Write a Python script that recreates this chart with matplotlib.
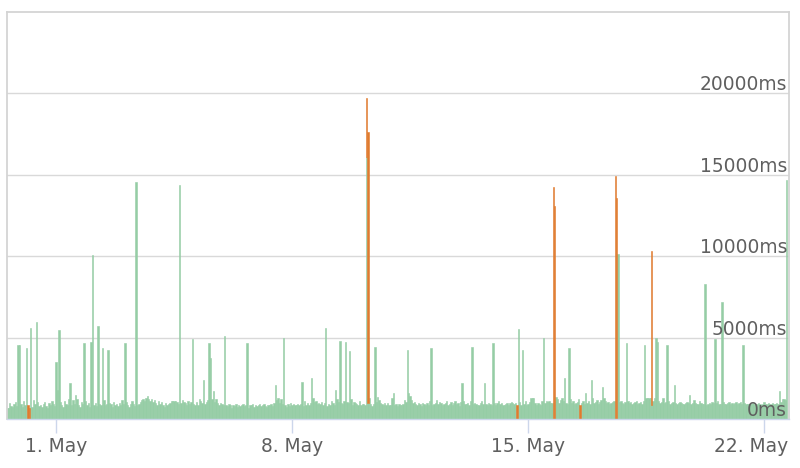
import matplotlib
matplotlib.use('Agg')
import matplotlib.pyplot as plt
import matplotlib.transforms as mtransforms
import numpy as np

# hour offsets relative to 1 May 00:00 (one bar per hour)
first_hour = -35

green_base = [
    700, 650, 980, 820, 760, 900, 1050, 780, 690, 880, 950, 720, 1100, 860, 790, 940, 1000, 830, 760, 1180, 900, 850, 1020, 780,
    880, 760, 930, 1050, 820, 700, 960, 840, 1120, 900, 780, 1300, 870, 950, 1020, 880, 760, 1100, 920, 840, 1250, 980, 870, 1150,
    920, 830, 1200, 880, 760, 1060, 940, 820, 1120, 880, 970, 760, 900, 1040, 850, 960, 780, 1100, 900, 830, 980, 1160, 870, 920,
    840, 980, 900, 760, 1050, 880, 930, 800, 1000, 870, 1140, 920, 840, 1060, 880, 760, 950, 1080, 900, 820, 1000, 870, 940, 1050,
    1150, 1230, 1080, 1300, 1180, 1250, 1100, 1200, 1040, 1150, 960, 880, 1100, 920, 1050, 870, 760, 980, 830, 900, 1000, 1080, 1080, 1080,
    1080, 1060, 950, 880, 1000, 1150, 1050, 960, 870, 1120, 900, 1050, 1000, 930, 860, 1020, 880, 1200, 1100, 990, 1300, 920, 1050, 1150,
    1100, 980, 1200, 1100, 1050, 1250, 960, 880, 1000, 920, 840, 960, 870, 780, 900, 830, 650, 870, 800, 920, 760, 880, 790, 860,
    900, 780, 850, 960, 700, 880, 830, 920, 760, 890, 810, 850, 940, 790, 870, 900, 820, 760, 880, 840, 920, 800, 1000, 1200,
    1150, 1300, 1000, 1250, 900, 1100, 850, 760, 900, 820, 980, 870, 930, 880, 850, 930, 870, 940, 1000, 820, 1100, 870, 960, 890,
    1000, 1150, 1300, 1050, 1100, 920, 1000, 900, 1050, 870, 960, 1150, 820, 950, 880, 1100, 1000, 860, 920, 1200, 1050, 900, 1000, 950,
    1100, 1050, 1020, 980, 1100, 1200, 880, 1050, 1000, 950, 890, 1100, 870, 900, 920, 880, 850, 1000, 1300, 900, 820, 950, 1000, 1050,
    1350, 1150, 1000, 900, 870, 980, 850, 1000, 860, 880, 1300, 1050, 850, 950, 780, 920, 880, 850, 900, 1150, 1050, 1000, 950, 1400,
    1150, 980, 1050, 900, 880, 1000, 900, 820, 1000, 920, 850, 960, 880, 1100, 950, 870, 920, 1000, 1150, 900, 1050, 1000, 880, 950,
    1000, 1100, 870, 920, 1050, 850, 1000, 1100, 900, 960, 820, 1050, 1000, 1100, 900, 940, 1000, 850, 1100, 1000, 920, 1000, 900, 860,
    880, 1000, 1100, 900, 1000, 950, 850, 1000, 900, 880, 1050, 960, 870, 1000, 1100, 920, 1000, 870, 850, 940, 1000, 880, 960, 1050,
    1000, 900, 980, 900, 1000, 1050, 870, 960, 900, 1100, 870, 950, 1050, 1300, 1300, 1300, 980, 880, 1000, 900, 850, 1100, 1050, 1000,
    1100, 1050, 1100, 1000, 960, 1100, 1100, 1380, 1200, 1000, 1150, 1300, 1100, 1050, 1000, 900, 1000, 1200, 1000, 1100, 900, 1000, 1050, 1200,
    1000, 1000, 1100, 900, 1300, 1000, 1100, 900, 1050, 1300, 1000, 1050, 1150, 900, 1050, 1150, 1000, 1300, 1100, 1000, 1050, 900, 1000, 1050,
    1100, 1000, 1000, 1000, 1050, 1100, 1000, 900, 1050, 1000, 1100, 1000, 1050, 900, 1000, 1050, 1100, 950, 1000, 1050, 900, 1100, 1300, 1300,
    1300, 1300, 1300, 1300, 1100, 1300, 1300, 1300, 1100, 1000, 1050, 1300, 1000, 1050, 1000, 1100, 950, 1000, 1050, 1100, 1000, 950, 1000, 1050,
    1000, 950, 900, 1000, 1050, 1000, 1100, 950, 1000, 1150, 1000, 900, 950, 1100, 1000, 900, 950, 1000, 850, 950, 1000, 900, 1050, 1000,
    950, 1000, 1100, 900, 950, 1000, 1050, 950, 900, 1000, 1050, 950, 1000, 900, 1000, 1050, 950, 1000, 1050, 950, 900, 1000, 950, 900,
    900, 950, 900, 1000, 850, 900, 950, 1000, 900, 850, 900, 1050, 900, 950, 1000, 900, 950, 1000, 900, 950, 1000, 950, 1300, 1050,
    1200, 1250, 1150, 1050,
]

green_peak_hours = [-27, -26, -21, -20, -19, -18, -14, 0, 1, 2, 10, 14, 20, 25, 26, 30, 33, 37, 49, 57,
                    65, 88, 97, 105, 109, 110, 112, 120, 136, 156, 162, 175, 182, 192, 199, 202, 206, 209,
                    221, 227, 240, 250, 251, 267, 289, 296, 305, 311, 328, 329, 332, 347, 354, 355, 356,
                    362, 365, 373, 377, 381, 389, 398, 399, 400, 406, 419, 424, 427, 428, 435, 440, 451,
                    462, 469, 474, 489, 515, 520]
green_peak_values = [4560, 4560, 4360, 0, 0, 5600, 5940, 3500, 1800, 5490, 2200, 1500, 4650, 4750, 10100, 5700, 4380, 4260, 4690, 14560,
                     1400, 14380, 4900, 2400, 4670, 3750, 1700, 5100, 4670, 2100, 5000, 2300, 2500, 5600, 1800, 4800, 4700, 4200,
                     16100, 4450, 1600, 4250, 1600, 4350, 2200, 4450, 2200, 4650, 0, 5500, 4250, 5000, 0, 0, 1380,
                     2500, 4350, 0, 1600, 2400, 1950, 0, 0, 10120, 4650, 4550, 850, 5000, 4700, 4550, 2100, 1500,
                     8300, 4900, 7200, 4550, 1700, 14700]

orange_hours = [-20, -19, 221, 222, 328, 354, 355, 373, 398, 399, 424]
orange_values = [880, 680, 3600, 16600, 880, 14230, 13100, 880, 14950, 13560, 9500]

tick_hours = [0, 168, 336, 504]
tick_labels = ['1. May', '8. May', '15. May', '22. May']
y_ticks = [0, 5000, 10000, 15000, 20000]
y_labels = ['0ms', '5000ms', '10000ms', '15000ms', '20000ms']

# build series
n = len(green_base)
hours = np.arange(first_hour, first_hour + n)
green = np.array(green_base, dtype=float)
for h, v in zip(green_peak_hours, green_peak_values):
    green[h - first_hour] = v
orange = np.zeros(n)
for h, v in zip(orange_hours, orange_values):
    orange[h - first_hour] = v

GREEN = '#95cda5'
ORANGE = '#e07b2e'
TEXT = '#5f5f5f'

plt.rcParams['font.family'] = ['DejaVu Sans']
fig = plt.figure(figsize=(8.0, 4.68), dpi=100)
ax = fig.add_axes([7 / 800, 49 / 468, 782 / 800, 407 / 468])

gm = green > 0
ax.bar(hours[gm], green[gm], width=1.0, color=GREEN, edgecolor=GREEN, linewidth=0.4, zorder=2)
om = orange > 0
ax.bar(hours[om], orange[om], width=1.0, bottom=green[om], color=ORANGE, edgecolor=ORANGE,
       linewidth=0.4, zorder=2)

ax.set_xlim(-34.9, 521.7)
ax.set_ylim(0, 25000)

ax.set_yticks(y_ticks)
ax.set_yticklabels([])
ax.tick_params(axis='y', length=0)
ax.yaxis.grid(True, color='#d9d9d9', linewidth=1.0)
ax.set_axisbelow(True)

for v, lbl in zip(y_ticks, y_labels):
    ax.annotate(lbl, xy=(1, v), xycoords=('axes fraction', 'data'), xytext=(-2, 3),
                textcoords='offset pixels', ha='right', va='baseline', fontsize=13.4,
                color=TEXT, zorder=5)

ax.set_xticks(tick_hours)
ax.set_xticklabels(tick_labels)
ax.tick_params(axis='x', length=10, width=1.0, color='#ccd6eb', pad=3,
               labelsize=13.4, labelcolor=TEXT)

# keep the last date label inside the figure, as in the reference
last = ax.get_xticklabels()[-1]
last.set_horizontalalignment('right')
last.set_transform(last.get_transform() +
                   mtransforms.ScaledTranslation(24 / 100, 0, fig.dpi_scale_trans))

for s in ['top', 'left', 'right']:
    ax.spines[s].set_color('#d4d4d4')
    ax.spines[s].set_linewidth(1.3)
ax.spines['bottom'].set_color('#ccd6eb')
ax.spines['bottom'].set_linewidth(1.0)

fig.savefig('out.png', dpi=100)
